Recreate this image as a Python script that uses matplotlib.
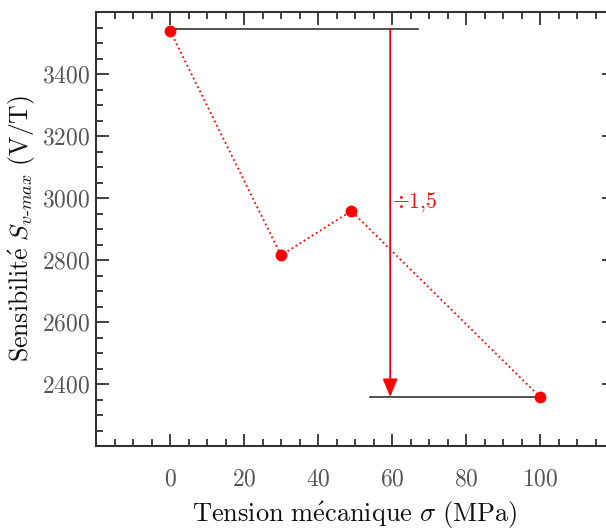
import matplotlib
matplotlib.use("Agg")
import matplotlib.pyplot as plt

plt.rcParams['font.family'] = 'serif'
plt.rcParams['font.serif'] = ['cmr10']
plt.rcParams['mathtext.fontset'] = 'cm'
plt.rcParams['axes.formatter.use_mathtext'] = True

# Data
stress_mpa = [0, 30, 49, 100]
sensitivity = [3540, 2815, 2958, 2358]
ref_high = 3545
ref_low = 2358
high_line_x = [0, 67]
low_line_x = [54, 100]
arrow_x = 59.5
x_ticks = [0, 20, 40, 60, 80, 100]
y_ticks = [2400, 2600, 2800, 3000, 3200, 3400]

fig = plt.figure(figsize=(6.06, 5.31), dpi=100)
ax = fig.add_axes([96/606, (531-446)/531, 518/606, (446-12)/531])

ax.plot(stress_mpa, sensitivity, linestyle=':', color='#ff0000', linewidth=1.3,
        marker='o', markersize=7.5, zorder=3)
ax.plot(high_line_x, [ref_high, ref_high], color='#333333', linewidth=1.2, zorder=2)
ax.plot(low_line_x, [ref_low, ref_low], color='#333333', linewidth=1.2, zorder=2)
ax.annotate('', xy=(arrow_x, ref_low), xytext=(arrow_x, ref_high),
            arrowprops=dict(arrowstyle='-|>,head_length=1.1,head_width=0.45',
                            color='#ff0000', lw=1.3, shrinkA=0, shrinkB=0))
ax.text(arrow_x + 0.4, 2986, r"$\div$1,5", color='#ff0000', fontsize=15.5,
        ha='left', va='center')

ax.set_xlim(-20, 120)
ax.set_ylim(2200, 3600)
ax.set_xticks(x_ticks)
ax.set_xticks([-15, -10, -5] + [i for i in range(0, 120, 5) if i % 20 != 0], minor=True)
ax.set_yticks(y_ticks)
ax.set_yticks([v for v in range(2250, 3600, 50) if v not in y_ticks], minor=True)

ax.tick_params(which='both', direction='in', top=True, right=True,
               colors='#333333', labelcolor='#555555', labelsize=17, width=1.3)
ax.tick_params(which='major', length=9, pad=16)
ax.tick_params(axis='y', which='major', pad=4)
ax.tick_params(which='minor', length=5)
for s in ax.spines.values():
    s.set_color('#333333')
    s.set_linewidth(1.5)

ax.set_xlabel(r"$\mathrm{Tension\ m\acute{e}canique}\ \sigma\ \mathrm{(MPa)}$",
              fontsize=19, color='#111111', labelpad=7)
ax.set_ylabel(r"$\mathrm{Sensibilit\acute{e}}\ S_{v\text{-}max}\ \mathrm{(V/T)}$",
              fontsize=18.5, color='#111111', labelpad=3)

fig.savefig("out.png", dpi=100)
